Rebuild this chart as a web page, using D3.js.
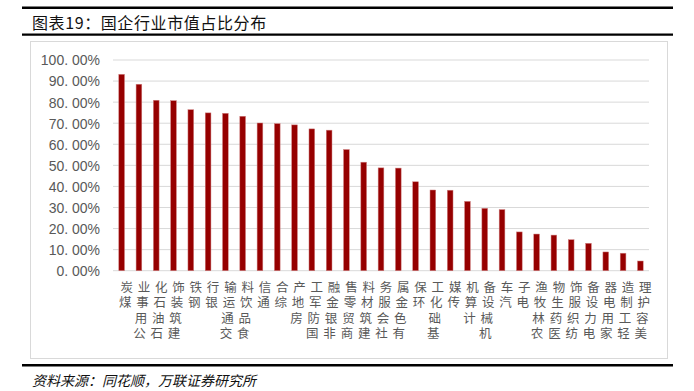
<!DOCTYPE html>
<html><head><meta charset="utf-8">
<script src="https://cdn.jsdelivr.net/npm/d3@7"></script>
<style>
html,body{margin:0;padding:0;background:#fff;}
svg{display:block;}
</style></head>
<body>
<script>
const categories = ["煤炭","公用事业","石油石化","建筑装饰","钢铁","银行","交通运输","食品饮料","通信","综合","房地产","国防军工","非银金融","商贸零售","建筑材料","社会服务","有色金属","环保","基础化工","传媒","计算机","机械设备","汽车","电子","农林牧渔","医药生物","纺织服饰","电力设备","家用电器","轻工制造","美容护理"];
const values = [93.2,88.5,80.9,80.7,76.4,74.9,74.7,73.3,70.1,69.8,69.2,67.3,66.7,57.5,51.5,48.8,48.7,42.2,38.3,38.2,32.9,29.6,29.0,18.4,17.4,16.9,14.7,13.0,8.9,8.3,4.6];
const yTicks = [0,10,20,30,40,50,60,70,80,90,100];
const title = "图表19：国企行业市值占比分布";
const source = "资料来源：同花顺，万联证券研究所";

const W = 694, H = 391;
const svg = d3.select("body").append("svg").attr("width", W).attr("height", H);
const cjk = "'Noto Sans CJK SC','Noto Sans',sans-serif";
const labFont = "'Liberation Sans','Noto Sans CJK SC',sans-serif";

// header lines
svg.append("line").attr("x1",22).attr("x2",673).attr("y1",7.8).attr("y2",7.8).attr("stroke","#000").attr("stroke-width",2.6);
svg.append("line").attr("x1",22).attr("x2",673).attr("y1",34.6).attr("y2",34.6).attr("stroke","#000").attr("stroke-width",2.4);
svg.append("text").attr("x",32).attr("y",28.5).attr("font-family",cjk).attr("font-size",16).attr("fill","#111").attr("letter-spacing",0.6).text(title);

// chart box
svg.append("rect").attr("x",30.5).attr("y",41.5).attr("width",637).attr("height",317).attr("fill","none").attr("stroke","#d9d9d9").attr("stroke-width",1);

const x = d3.scaleBand().domain(categories).range([113,649]).paddingInner(0.67).paddingOuter(0.335);
const y = d3.scaleLinear().domain([0,100]).range([270.7,60]);

// gridlines
svg.append("g").selectAll("line").data(yTicks).join("line")
  .attr("x1",113).attr("x2",649).attr("y1",d=>y(d)).attr("y2",d=>y(d))
  .attr("stroke","#d9d9d9").attr("stroke-width",1);

// y axis labels
const yAxis = d3.axisLeft(y).tickValues(yTicks).tickSize(0).tickPadding(0).tickFormat(d=>d.toFixed(0)+". 00%");
const ya = svg.append("g").attr("transform","translate(100,0)").call(yAxis);
ya.select(".domain").remove();
ya.selectAll("text").attr("font-family","'Liberation Sans',Arial,sans-serif").attr("font-size",14).attr("fill","#595959").attr("dy","0.35em");

// bars
svg.append("g").selectAll("rect").data(values).join("rect")
  .attr("x",(d,i)=>x(categories[i]))
  .attr("width",x.bandwidth())
  .attr("y",d=>y(d))
  .attr("height",d=>y(0)-y(d))
  .attr("fill","#960000")
  .attr("stroke","#d08080").attr("stroke-width",0.5);

// category labels: upright characters, reading bottom-to-top, slight slant
const f = 12.5;
const lab = svg.append("g");
categories.forEach(c=>{
  const chars = Array.from(c);
  const n = chars.length;
  const cx = x(c) + x.bandwidth()/2 + 5;
  chars.forEach((ch,i)=>{
    const k = n-1-i;
    lab.append("text")
      .attr("x", cx - k*1.5)
      .attr("y", 287 + k*15.5 + 0.38*f)
      .attr("text-anchor","middle")
      .attr("font-family",labFont).attr("font-size",f).attr("fill","#595959")
      .text(ch);
  });
});

// footer
svg.append("line").attr("x1",22).attr("x2",673).attr("y1",365.3).attr("y2",365.3).attr("stroke","#000").attr("stroke-width",2.4);
svg.append("text").attr("x",32).attr("y",386).attr("font-family",cjk).attr("font-size",14).attr("font-style","italic").attr("fill","#111").text(source);
</script>
</body></html>
